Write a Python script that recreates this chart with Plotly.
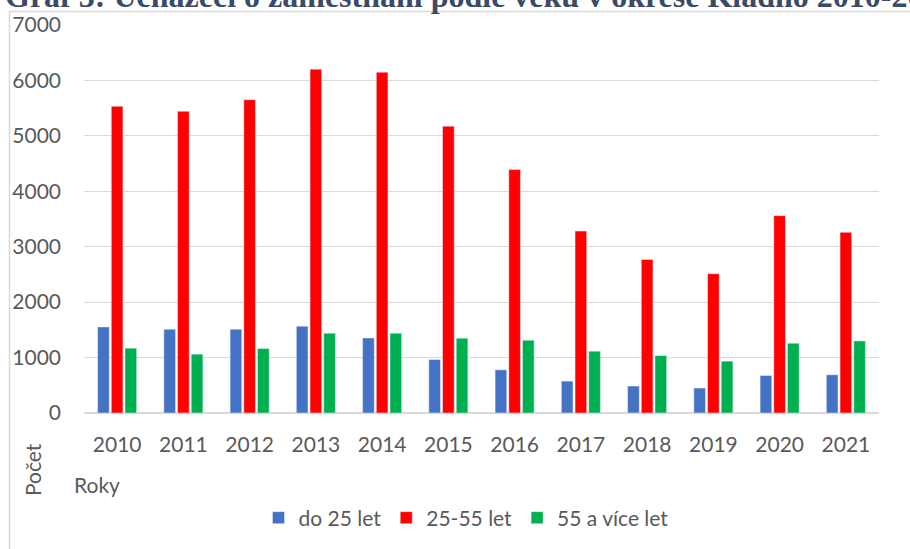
import plotly.graph_objects as go

years = ["2010", "2011", "2012", "2013", "2014", "2015",
         "2016", "2017", "2018", "2019", "2020", "2021"]
do_25 = [1552, 1511, 1511, 1565, 1354, 964, 779, 575, 486, 450, 676, 689]
od_25_do_55 = [5533, 5443, 5653, 6203, 6149, 5175, 4392, 3282, 2770, 2512, 3560, 3259]
nad_55 = [1169, 1061, 1162, 1439, 1439, 1349, 1313, 1115, 1036, 935, 1259, 1300]

W, H = 910, 549
L, R, T, B = 84, 31, 25, 136
pw, ph = W - L - R, H - T - B

def px_x(p):
    return (p - L) / pw

def px_y(p):
    return (H - B - p) / ph

font = "Lato, 'Open Sans', sans-serif"
grey = "#595959"

fig = go.Figure()
fig.add_trace(go.Bar(x=years, y=do_25, name="do 25 let", marker_color="#4472C4"))
fig.add_trace(go.Bar(x=years, y=od_25_do_55, name="25-55 let", marker_color="#FF0000"))
fig.add_trace(go.Bar(x=years, y=nad_55, name="55 a více let", marker_color="#00B050"))

fig.update_layout(
    width=W, height=H,
    margin=dict(l=L, r=R, t=T, b=B, autoexpand=False),
    paper_bgcolor="white", plot_bgcolor="white",
    barmode="group", bargap=0.38, bargroupgap=0.15,
    font=dict(family=font, size=21, color=grey),
    legend=dict(orientation="h", x=px_x(466), xanchor="center", y=px_y(518), yanchor="middle",
                font=dict(size=21, color=grey), itemwidth=30, traceorder="normal"),
    showlegend=True,
)
fig.update_yaxes(range=[0, 7000], dtick=1000, showgrid=True, gridcolor="#D9D9D9", gridwidth=1,
                 zeroline=True, zerolinecolor="#D9D9D9", showline=False,
                 ticks="", ticklabelstandoff=22, tickfont=dict(size=21, color=grey))
fig.update_xaxes(showgrid=False, showline=False, ticks="", ticklabelstandoff=17,
                 tickfont=dict(size=21, color=grey))

# rámeček grafu
fig.add_shape(type="rect", xref="paper", yref="paper",
              x0=px_x(9.5), x1=px_x(930), y0=px_y(600), y1=px_y(11.5),
              line=dict(color="#D9D9D9", width=1.5), fillcolor="rgba(0,0,0,0)", layer="below")

# nadpis (oříznutý nahoře)
fig.add_annotation(text="<b>Graf 3: Uchazeči o zaměstnání podle věku v okrese Kladno 2010-2021</b>",
                   xref="paper", yref="paper", x=px_x(3), y=px_y(16), xanchor="left", yanchor="bottom",
                   showarrow=False, font=dict(family="'Liberation Serif', 'Times New Roman', serif",
                                              size=32, color="#3B4A66"))
fig.add_annotation(text="Počet", xref="paper", yref="paper", x=px_x(33), y=px_y(470),
                   xanchor="center", yanchor="middle",
                   textangle=-90, showarrow=False, font=dict(size=21, color=grey))
fig.add_annotation(text="Roky", xref="paper", yref="paper", x=px_x(72), y=px_y(484),
                   xanchor="left", yanchor="middle", showarrow=False, font=dict(size=21, color=grey))

fig.write_html("out.html", config={"displayModeBar": False},
               post_script="document.body.style.margin='0px';")
